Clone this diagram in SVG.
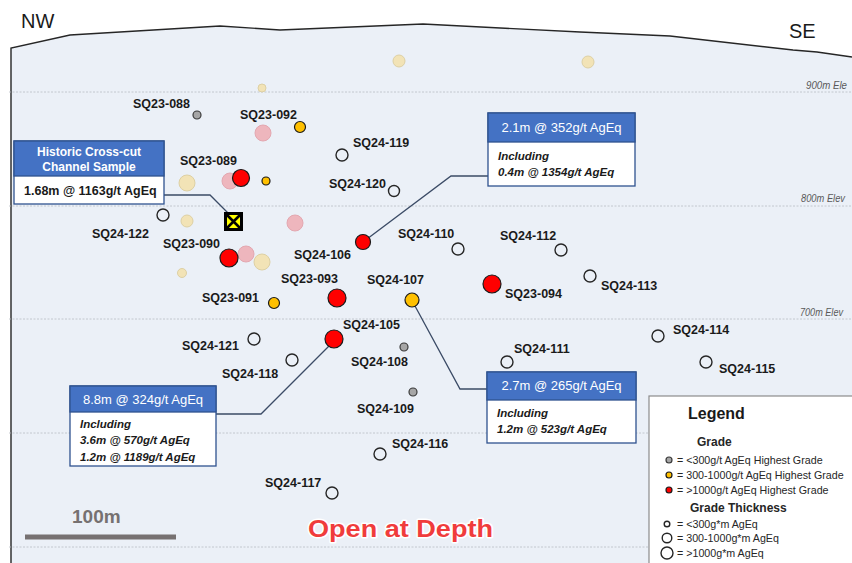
<svg xmlns="http://www.w3.org/2000/svg" width="852" height="563" viewBox="0 0 852 563">
  <defs>
    <style>
      .lbl { font-family: "Liberation Sans", Arial, sans-serif; font-weight: bold; font-size: 12.5px; fill: #1a1a1a; }
      .elev { font-family: "Liberation Sans", Arial, sans-serif; font-style: italic; font-size: 11px; fill: #595959; }
      .grid { stroke: #b8bcc4; stroke-width: 0.8; stroke-dasharray: 2 1.5; fill: none; }
      .conn { stroke: #3b4b66; stroke-width: 1.3; fill: none; }
      .open { fill: none; stroke: #262626; stroke-width: 1.4; }
      .red { fill: #ff0000; stroke: #1a1a1a; stroke-width: 1.2; }
      .org { fill: #ffc000; stroke: #1a1a1a; stroke-width: 1.2; }
      .gry { fill: #a6a6a6; stroke: #3a3a3a; stroke-width: 1.2; }
      .tan { fill: #f2e3b6; stroke: #ddd0a4; stroke-width: 1; }
      .pnk { fill: #eeb6bd; stroke: #e3a7b0; stroke-width: 1; }
      .box { fill: #ffffff; stroke: #2f528f; stroke-width: 1.3; }
      .bar { fill: #4472c4; stroke: #2f528f; stroke-width: 1.3; }
      .ttl { font-family: "Liberation Sans", Arial, sans-serif; font-size: 13px; fill: #ffffff; }
      .ttlb { font-family: "Liberation Sans", Arial, sans-serif; font-size: 12px; font-weight: bold; fill: #ffffff; }
      .body { font-family: "Liberation Sans", Arial, sans-serif; font-size: 11.5px; font-weight: bold; font-style: italic; fill: #1a1a1a; }
      .leg { font-family: "Liberation Sans", Arial, sans-serif; font-size: 10.7px; fill: #262626; }
      .legh { font-family: "Liberation Sans", Arial, sans-serif; font-size: 12px; font-weight: bold; fill: #262626; }
    </style>
  </defs>

  <!-- page -->
  <rect width="852" height="563" fill="#ffffff"/>

  <!-- section area below topography -->
  <path d="M11 48 L70 35 L220 26 L280 30 L423 24 L580 32 L670 36 L793 50 L817 52 L852 57 L852 563 L11 563 Z" fill="#ebf0f7"/>
  <path d="M11 563 L11 48 L70 35 L220 26 L280 30 L423 24 L580 32 L670 36 L793 50 L817 52 L852 57" fill="none" stroke="#262626" stroke-width="1.4"/>

  <!-- elevation lines -->
  <g id="elevation">
    <line class="grid" x1="9" y1="92" x2="852" y2="92"/>
    <line class="grid" x1="9" y1="206" x2="852" y2="206"/>
    <line class="grid" x1="9" y1="319" x2="852" y2="319"/>
    <line class="grid" x1="9" y1="433" x2="852" y2="433"/>
    <line class="grid" x1="9" y1="547" x2="852" y2="547"/>
    <text class="elev" x="806" y="89" textLength="41" lengthAdjust="spacingAndGlyphs">900m Ele</text>
    <text class="elev" x="801" y="202" textLength="44" lengthAdjust="spacingAndGlyphs">800m Elev</text>
    <text class="elev" x="800" y="316" textLength="43" lengthAdjust="spacingAndGlyphs">700m Elev</text>
  </g>

  <!-- compass -->
  <text x="21" y="28" font-family="Liberation Sans, Arial, sans-serif" font-size="20" fill="#1a1a1a">NW</text>
  <text x="789" y="38" font-family="Liberation Sans, Arial, sans-serif" font-size="20" fill="#1a1a1a">SE</text>

  <!-- earlier holes (faded) -->
  <g id="earlier-holes">
    <circle class="tan" cx="399" cy="61" r="6"/>
    <circle class="tan" cx="588" cy="62" r="6"/>
    <circle class="tan" cx="262" cy="88" r="4"/>
    <circle class="pnk" cx="263" cy="133" r="8"/>
    <circle class="tan" cx="187" cy="183" r="8"/>
    <circle class="pnk" cx="230" cy="181" r="8"/>
    <circle class="tan" cx="187" cy="221" r="6"/>
    <circle class="pnk" cx="295" cy="223" r="8"/>
    <circle class="pnk" cx="246" cy="254" r="8"/>
    <circle class="tan" cx="262" cy="262" r="8"/>
    <circle class="tan" cx="182" cy="273" r="4.5"/>
  </g>

  <!-- connectors -->
  <g id="connectors">
    <polyline class="conn" points="164,195 210,195 228,213"/>
    <polyline class="conn" points="367,239 451,176 488,176"/>
    <polyline class="conn" points="415,306 460,389 487,389"/>
    <polyline class="conn" points="330,345 261,414 216,414"/>
  </g>

  <!-- drill holes -->
  <g id="SQ23-088"><circle class="gry" cx="197" cy="115" r="4"/><text class="lbl" x="133" y="108">SQ23-088</text></g>
  <g id="SQ23-092"><circle class="org" cx="300" cy="127" r="5.5"/><text class="lbl" x="240" y="119">SQ23-092</text></g>
  <g id="SQ24-119"><circle class="open" cx="342" cy="155" r="6"/><text class="lbl" x="353" y="147">SQ24-119</text></g>
  <g id="SQ24-120"><circle class="open" cx="394" cy="191" r="5.5"/><text class="lbl" x="329" y="188">SQ24-120</text></g>
  <g id="SQ23-089"><circle class="red" cx="241" cy="178" r="8.5"/><circle class="org" cx="266" cy="181" r="4"/><text class="lbl" x="180" y="165">SQ23-089</text></g>
  <g id="SQ24-122"><circle class="open" cx="163" cy="215" r="6"/><text class="lbl" x="92" y="238">SQ24-122</text></g>
  <g id="SQ23-090"><circle class="red" cx="229" cy="258" r="9"/><text class="lbl" x="163" y="248">SQ23-090</text></g>
  <g id="SQ23-091"><circle class="org" cx="274" cy="303" r="5.5"/><text class="lbl" x="202" y="302">SQ23-091</text></g>
  <g id="SQ24-121"><circle class="open" cx="254" cy="339" r="6"/><text class="lbl" x="182" y="350">SQ24-121</text></g>
  <g id="SQ24-118"><circle class="open" cx="292" cy="360" r="6"/><text class="lbl" x="222" y="378">SQ24-118</text></g>
  <g id="SQ24-106"><circle class="red" cx="363" cy="242" r="7.5"/><text class="lbl" x="294" y="259">SQ24-106</text></g>
  <g id="SQ24-110"><circle class="open" cx="458" cy="249" r="6"/><text class="lbl" x="398" y="238">SQ24-110</text></g>
  <g id="SQ24-112"><circle class="open" cx="561" cy="250" r="6"/><text class="lbl" x="500" y="240">SQ24-112</text></g>
  <g id="SQ23-093"><circle class="red" cx="337" cy="298" r="9"/><text class="lbl" x="281" y="283">SQ23-093</text></g>
  <g id="SQ24-107"><circle class="org" cx="412" cy="300" r="7"/><text class="lbl" x="367" y="284">SQ24-107</text></g>
  <g id="SQ23-094"><circle class="red" cx="492" cy="284" r="9"/><text class="lbl" x="505" y="298">SQ23-094</text></g>
  <g id="SQ24-113"><circle class="open" cx="590" cy="276" r="6"/><text class="lbl" x="601" y="290">SQ24-113</text></g>
  <g id="SQ24-105"><circle class="red" cx="334" cy="339" r="9"/><text class="lbl" x="343" y="329">SQ24-105</text></g>
  <g id="SQ24-108"><circle class="gry" cx="404" cy="347" r="4"/><text class="lbl" x="351" y="366">SQ24-108</text></g>
  <g id="SQ24-111"><circle class="open" cx="507" cy="362" r="6"/><text class="lbl" x="514" y="353">SQ24-111</text></g>
  <g id="SQ24-114"><circle class="open" cx="658" cy="336" r="6"/><text class="lbl" x="673" y="334">SQ24-114</text></g>
  <g id="SQ24-115"><circle class="open" cx="706" cy="362" r="6"/><text class="lbl" x="719" y="373">SQ24-115</text></g>
  <g id="SQ24-109"><circle class="gry" cx="413" cy="392" r="4"/><text class="lbl" x="357" y="413">SQ24-109</text></g>
  <g id="SQ24-116"><circle class="open" cx="380" cy="454" r="6"/><text class="lbl" x="392" y="448">SQ24-116</text></g>
  <g id="SQ24-117"><circle class="open" cx="332" cy="493" r="6"/><text class="lbl" x="265" y="487">SQ24-117</text></g>

  <!-- historic channel sample marker -->
  <g id="channel-sample">
    <rect x="224" y="212" width="19" height="19" fill="#000000"/>
    <rect x="227" y="215" width="13" height="13" fill="#ffff00"/>
    <path d="M227 215 L240 228 M240 215 L227 228" stroke="#000000" stroke-width="2.6"/>
  </g>

  <!-- callouts -->
  <g id="callout-historic">
    <rect class="box" x="14" y="141" width="150" height="63"/>
    <rect class="bar" x="14" y="141" width="150" height="35"/>
    <text class="ttlb" x="89" y="156" text-anchor="middle">Historic Cross-cut</text>
    <text class="ttlb" x="89" y="171" text-anchor="middle">Channel Sample</text>
    <text class="lbl" x="24" y="195" font-size="12">1.68m @ 1163g/t AgEq</text>
  </g>

  <g id="callout-106">
    <rect class="box" x="488" y="113" width="147" height="73"/>
    <rect class="bar" x="488" y="113" width="147" height="29"/>
    <text class="ttl" x="561.5" y="132" text-anchor="middle">2.1m @ 352g/t AgEq</text>
    <text class="body" x="498" y="160">Including</text>
    <text class="body" x="498" y="176">0.4m @ 1354g/t AgEq</text>
  </g>

  <g id="callout-107">
    <rect class="box" x="487" y="372" width="149" height="71"/>
    <rect class="bar" x="487" y="372" width="149" height="28"/>
    <text class="ttl" x="561.5" y="390" text-anchor="middle">2.7m @ 265g/t AgEq</text>
    <text class="body" x="497" y="417">Including</text>
    <text class="body" x="497" y="433">1.2m @ 523g/t AgEq</text>
  </g>

  <g id="callout-105">
    <rect class="box" x="70" y="386" width="146" height="80"/>
    <rect class="bar" x="70" y="386" width="146" height="26"/>
    <text class="ttl" x="143" y="404" text-anchor="middle">8.8m @ 324g/t AgEq</text>
    <text class="body" x="80" y="428">Including</text>
    <text class="body" x="80" y="444">3.6m @ 570g/t AgEq</text>
    <text class="body" x="80" y="461">1.2m @ 1189g/t AgEq</text>
  </g>

  <!-- scale bar -->
  <g id="scale">
    <text x="72" y="523" font-family="Liberation Sans, Arial, sans-serif" font-size="19" font-weight="bold" fill="#767171">100m</text>
    <rect x="25" y="534.5" width="151" height="5" fill="#767171"/>
  </g>

  <!-- depth note -->
  <text x="308" y="537" font-family="Liberation Sans, Arial, sans-serif" font-size="24" font-weight="900" fill="#f03c3c" stroke="#ffffff" stroke-width="3" paint-order="stroke" stroke-linejoin="round" textLength="185" lengthAdjust="spacingAndGlyphs">Open at Depth</text>

  <!-- legend -->
  <g id="legend">
    <rect x="649" y="396" width="210" height="175" fill="#ffffff" stroke="#8c8c8c" stroke-width="1.2"/>
    <text x="688" y="419" font-family="Liberation Sans, Arial, sans-serif" font-size="16" font-weight="bold" fill="#1a1a1a">Legend</text>
    <text class="legh" x="697" y="446">Grade</text>
    <circle class="gry" cx="669" cy="460" r="3"/>
    <text class="leg" x="677" y="464">= &lt;300g/t AgEq Highest Grade</text>
    <circle class="org" cx="669" cy="475" r="3"/>
    <text class="leg" x="677" y="479">= 300-1000g/t AgEq Highest Grade</text>
    <circle class="red" cx="669" cy="490" r="3"/>
    <text class="leg" x="677" y="494">= &gt;1000g/t AgEq Highest Grade</text>
    <text class="legh" x="690" y="512">Grade Thickness</text>
    <circle class="open" cx="667" cy="524" r="2.8"/>
    <text class="leg" x="677" y="528">= &lt;300g*m AgEq</text>
    <circle class="open" cx="667" cy="538" r="4.8"/>
    <text class="leg" x="677" y="542">= 300-1000g*m AgEq</text>
    <circle class="open" cx="667" cy="553" r="6"/>
    <text class="leg" x="677" y="557">= &gt;1000g*m AgEq</text>
  </g>
</svg>
